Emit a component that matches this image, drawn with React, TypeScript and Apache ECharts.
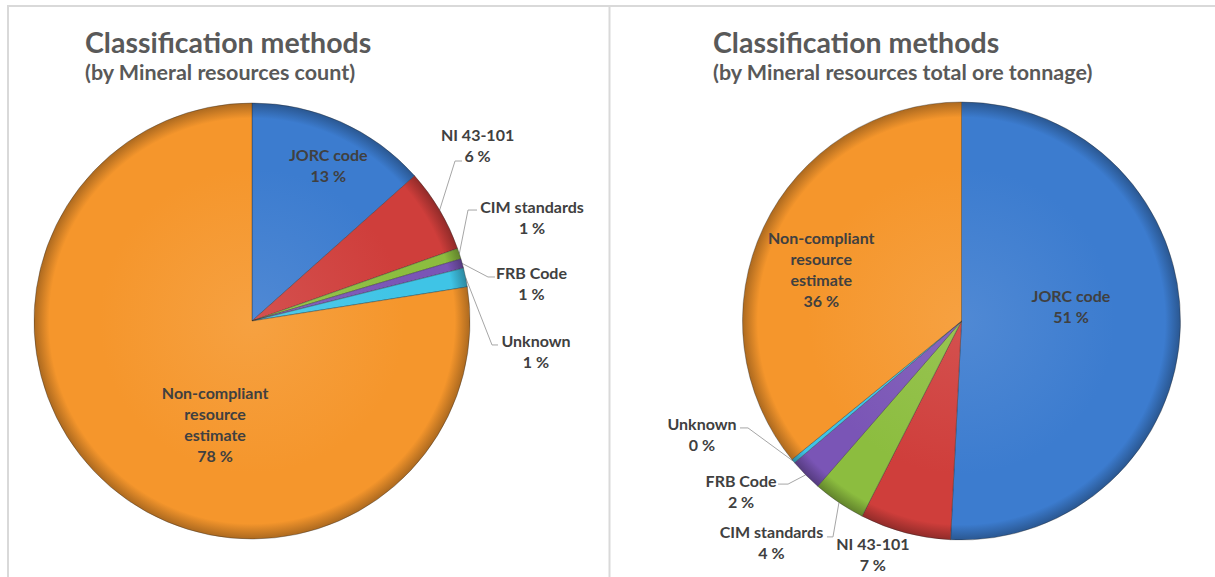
import React, { useEffect, useRef } from 'react';
import * as echarts from 'echarts';

// ---- data ----
const categories = ['JORC code', 'NI 43-101', 'CIM standards', 'FRB Code', 'Unknown', 'Non-compliant resource estimate'];
const countShares = [13.4, 6.2, 0.8, 0.7, 1.4, 77.5];
const tonnageShares = [50.8, 6.7, 3.9, 2.4, 0.3, 35.9];
const titleMain = 'Classification methods';
const subtitleCount = '(by Mineral resources count)';
const subtitleTonnage = '(by Mineral resources total ore tonnage)';

// ---- style ----
const palette = ['#3c7ccf', '#cf3e3b', '#8cbd3f', '#7a55b6', '#3fc4e6', '#f5962c'];
const FONT = 'Lato, "Noto Sans", sans-serif';

type LabelStyle = { inside?: boolean; dx?: number; dy?: number; ox?: number; oy?: number; ex?: number; ey?: number; len?: number; noLine?: boolean };

const leftLabels: LabelStyle[] = [
  { inside: true, dx: 30.5, dy: -54 },
  { ox: 37.9, oy: -65, ex: 22.4, ey: -49, len: 7 },
  { ox: 72.7, oy: -37.1, ex: 17.7, ey: -43.6, len: 9 },
  { ox: 69.2, oy: 20, ex: 32.7, ey: 13.5, len: 7 },
  { ox: 70.4, oy: 73.5, ex: 32.4, ey: 67.5, len: 6 },
  { inside: true, dx: 35.8, dy: 17.6 },
];
const rightLabels: LabelStyle[] = [
  { inside: true, dx: -3, dy: -18.3 },
  { ox: -32.2, oy: 21.9, noLine: true },
  { ox: -67.5, oy: 39.4, ex: -12, ey: 34.4, len: 6 },
  { ox: -64.6, oy: 15.7, ex: -27.6, ey: 9.2, len: 10 },
  { ox: -91.2, oy: -26.7, ex: -53.2, ey: -33.2, len: 8 },
  { inside: true, dx: -38.6, dy: -4.1 },
];

function shade(hex: string, f: number) {
  const n = parseInt(hex.slice(1), 16);
  let r = (n >> 16) & 255, g = (n >> 8) & 255, b = n & 255;
  if (f >= 0) {
    r += (255 - r) * f; g += (255 - g) * f; b += (255 - b) * f;
  } else {
    r *= 1 + f; g *= 1 + f; b *= 1 + f;
  }
  return `rgb(${Math.round(r)},${Math.round(g)},${Math.round(b)})`;
}

const rich = {
  c: { fontFamily: FONT, fontWeight: 'bold', fontSize: 16, color: '#404040', lineHeight: 21, align: 'center' },
};

function formatter(p: any) {
  const lines = p.name.length > 20 ? p.name.split(' ') : [p.name];
  lines.push(Math.round(p.percent) + ' %');
  return lines.map((l: string) => `{c|${l}}`).join('\n');
}

function pieSeries(values: number[], cx: number, cy: number, R: number, styles: LabelStyle[]) {
  return {
    type: 'pie',
    center: [cx, cy],
    radius: R,
    startAngle: 90,
    clockwise: true,
    avoidLabelOverlap: false,
    silent: true,
    data: categories.map((name, i) => ({
      name,
      value: values[i],
      itemStyle: {
        color: {
          type: 'radial', x: cx, y: cy, r: R, global: true,
          colorStops: [
            { offset: 0, color: shade(palette[i], 0.1) },
            { offset: 0.7, color: palette[i] },
            { offset: 0.93, color: palette[i] },
            { offset: 1, color: shade(palette[i], -0.3) },
          ],
        },
      },
      label: { position: styles[i].inside ? 'inside' : 'outside' },
    })),
    itemStyle: { borderColor: 'rgba(40,40,40,0.45)', borderWidth: 0.8 },
    label: { show: true, formatter, rich },
    labelLine: { show: true, length: 10, length2: 8, smooth: false, lineStyle: { color: '#a6a6a6', width: 1 } },
    labelLayout: (p: any) => {
      const s = styles[p.dataIndex];
      const r = p.labelRect;
      const pts = p.labelLinePoints;
      if (s.inside || !pts) {
        return { x: r.x + r.width / 2 + (s.dx || 0), y: r.y + r.height / 2 + (s.dy || 0), align: 'center', verticalAlign: 'middle' };
      }
      const p0 = pts[0];
      const tx = p0[0] + (s.ox || 0);
      const ty = p0[1] + (s.oy || 0);
      if (s.noLine) {
        return { x: tx, y: ty, align: 'center', verticalAlign: 'middle', labelLinePoints: [p0, p0, p0] };
      }
      const end = [p0[0] + (s.ex || 0), p0[1] + (s.ey || 0)];
      const sign = (s.ex || 0) >= 0 ? -1 : 1;
      const elbow = [end[0] + sign * (s.len || 0), end[1]];
      return { x: tx, y: ty, align: 'center', verticalAlign: 'middle', labelLinePoints: [p0, elbow, end] };
    },
  };
}

const titleStyle = { fontFamily: FONT, fontWeight: 'bold', fontSize: 28.5, color: '#595959' };
const subStyle = { fontFamily: FONT, fontWeight: 'bold', fontSize: 21.5, color: '#595959' };

export default function App() {
  const ref = useRef<HTMLDivElement>(null);
  useEffect(() => {
    if (!ref.current) return;
    const chart = echarts.init(ref.current, undefined, { renderer: 'svg' });
    chart.setOption({
      animation: false,
      backgroundColor: '#ffffff',
      title: [
        { text: titleMain, left: 85, top: 27, padding: 0, textStyle: titleStyle },
        { text: subtitleCount, left: 85, top: 61, padding: 0, textStyle: subStyle },
        { text: titleMain, left: 713, top: 27, padding: 0, textStyle: titleStyle },
        { text: subtitleTonnage, left: 713, top: 61, padding: 0, textStyle: subStyle },
      ],
      graphic: [
        { type: 'line', shape: { x1: 7, y1: 6, x2: 1215, y2: 6 }, style: { stroke: '#d9d9d9', lineWidth: 2 } },
        { type: 'line', shape: { x1: 8, y1: 6, x2: 8, y2: 577 }, style: { stroke: '#d9d9d9', lineWidth: 2 } },
        { type: 'line', shape: { x1: 609.5, y1: 6, x2: 609.5, y2: 577 }, style: { stroke: '#d9d9d9', lineWidth: 2 } },
      ],
      series: [
        pieSeries(countShares, 252, 321, 218, leftLabels),
        pieSeries(tonnageShares, 961.5, 321, 219, rightLabels),
      ],
    });
    return () => chart.dispose();
  }, []);
  return <div ref={ref} style={{ position: 'absolute', left: 0, top: 0, width: 1215, height: 577 }} />;
}
